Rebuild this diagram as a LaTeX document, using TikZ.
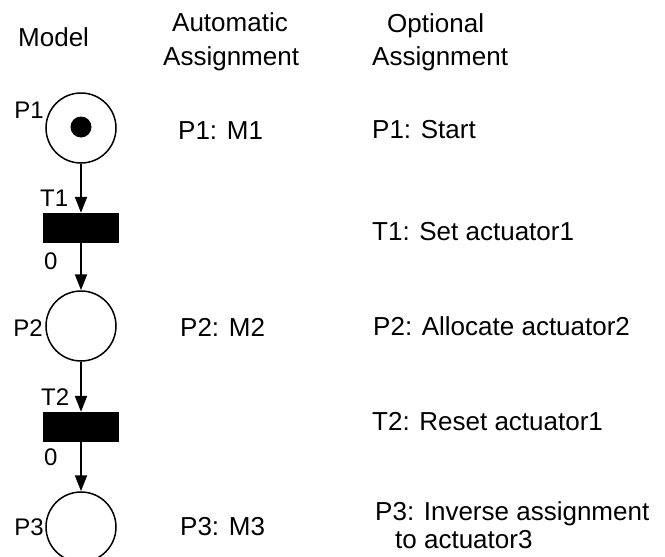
\documentclass[tikz,border=0pt]{standalone}
\usepackage{fontspec}
\setmainfont{Liberation Sans}
\usetikzlibrary{arrows.meta}
\begin{document}
\begin{tikzpicture}[x=1pt,y=-1pt,
  txt/.style={anchor=base west,inner sep=0pt,font=\fontsize{26}{30}\selectfont},
  lbl/.style={inner sep=0pt,font=\fontsize{24}{28}\selectfont},
  place/.style={circle,draw,line width=1.5pt,minimum size=70pt,inner sep=0pt},
  trans/.style={rectangle,fill=black,minimum width=76pt,minimum height=30pt,inner sep=0pt},
  token/.style={circle,fill=black,minimum size=21pt,inner sep=0pt},
  arc/.style={line width=2pt,-{Triangle[length=16pt,width=12pt]}}]
\useasboundingbox (0,0) rectangle (665,557);
\clip (0,0) rectangle (665,557);

% column headers
\node[txt] (hmodel) at (18,46) {Model};
\node[txt] (hauto1) at (172,31) {Automatic};
\node[txt] (hauto2) at (163,65) {Assignment};
\node[txt] (hopt1) at (387,32) {Optional};
\node[txt] (hopt2) at (372,65) {Assignment};

% Petri net model
\node[place] (P1) at (81,128) {};
\node[token] (tok) at (81,127) {};
\node[trans] (T1) at (81,228) {};
\node[place] (P2) at (81,326) {};
\node[trans] (T2) at (81,427) {};
\node[place] (P3) at (81,527) {};

\draw[arc] (P1) -- (T1);
\draw[arc] (T1) -- (P2);
\draw[arc] (P2) -- (T2);
\draw[arc] (T2) -- (P3);

% element labels
\node[lbl,anchor=base east] (lP1) at (44,118) {P1};
\node[lbl,anchor=base west] (lT1) at (40,206) {T1};
\node[lbl,anchor=base west] (d1) at (44,269) {0};
\node[lbl,anchor=base east] (lP2) at (43,336) {P2};
\node[lbl,anchor=base west] (lT2) at (41,405) {T2};
\node[lbl,anchor=base west] (d2) at (44,465) {0};
\node[lbl,anchor=base east] (lP3) at (44,535) {P3};

% automatic assignment
\node[txt] (a1) at (178,139) {P1: M1};
\node[txt] (a2) at (180,336) {P2: M2};
\node[txt] (a3) at (180,535) {P3: M3};

% optional assignment
\node[txt] (o1) at (372,138) {P1: Start};
\node[txt] (o2) at (372,240) {T1: Set actuator1};
\node[txt] (o3) at (373,335) {P2: Allocate actuator2};
\node[txt] (o4) at (372,430) {T2: Reset actuator1};
\node[txt] (o5) at (375,520) {P3: Inverse assignment};
\node[txt] (o6) at (395,548) {to actuator3};
\end{tikzpicture}
\end{document}
